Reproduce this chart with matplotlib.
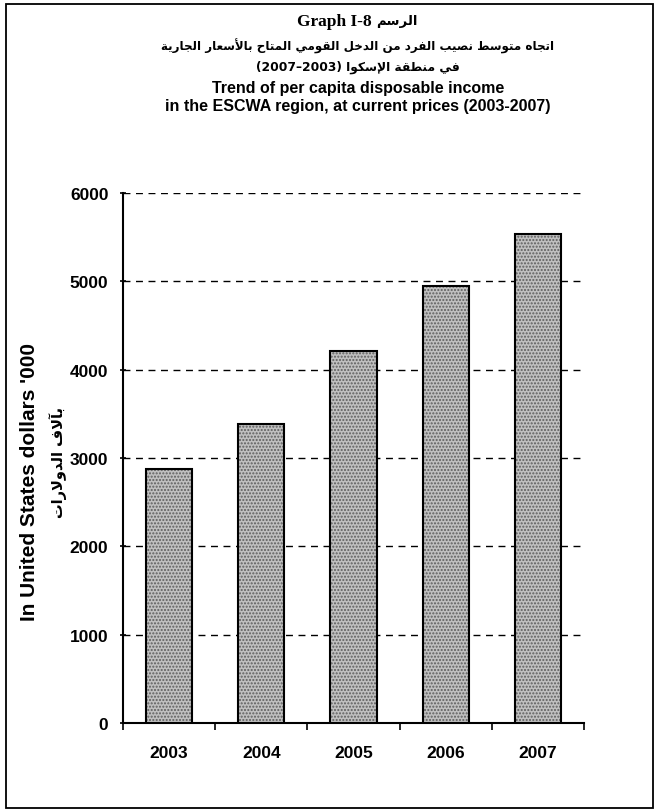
import matplotlib
matplotlib.use("Agg")
from matplotlib import pyplot as plt
from matplotlib.patches import Rectangle

years = ['2003', '2004', '2005', '2006', '2007']
income = [2880, 3390, 4215, 4945, 5535]
yticks = [0, 1000, 2000, 3000, 4000, 5000, 6000]

title_en = ['Trend of per capita disposable income',
            'in the ESCWA region, at current prices (2003-2007)']
title_ar_1 = 'الرسم'
title_ar_2 = 'اتجاه متوسط نصيب الفرد من الدخل القومي المتاح بالأسعار الجارية'
title_ar_3 = 'في منطقة الإسكوا'
ylabel_en = "In United States dollars '000"
ylabel_ar = 'بآلاف الدولارات'

# matplotlib has no arabic shaping, so pick presentation forms by hand
# and reverse for left-to-right drawing
DUAL = {'ب': 0xFE8F, 'ت': 0xFE95, 'ج': 0xFE9D, 'ح': 0xFEA1, 'خ': 0xFEA5,
        'س': 0xFEB1, 'ص': 0xFEB9, 'ط': 0xFEC1, 'ع': 0xFEC9, 'ف': 0xFED1,
        'ق': 0xFED5, 'ك': 0xFED9, 'ل': 0xFEDD, 'م': 0xFEE1, 'ن': 0xFEE5,
        'ه': 0xFEE9, 'ي': 0xFEF1}
RIGHT = {'ا': 0xFE8D, 'أ': 0xFE83, 'إ': 0xFE87, 'آ': 0xFE81, 'ة': 0xFE93,
         'د': 0xFEA9, 'ر': 0xFEAD, 'و': 0xFEED}
LAM_ALEF = {'ا': 0xFEFB, 'أ': 0xFEF7, 'إ': 0xFEF9, 'آ': 0xFEF5}


def shape(text):
    out = []
    i = 0
    while i < len(text):
        c = text[i]
        prev = text[i - 1] if i > 0 else ''
        joins_prev = prev in DUAL
        if c == 'ل' and i + 1 < len(text) and text[i + 1] in LAM_ALEF:
            out.append(chr(LAM_ALEF[text[i + 1]] + (1 if joins_prev else 0)))
            i += 2
            continue
        nxt = text[i + 1] if i + 1 < len(text) else ''
        if c in DUAL:
            joins_next = nxt in DUAL or nxt in RIGHT
            base = DUAL[c]
            if joins_prev and joins_next:
                out.append(chr(base + 3))
            elif joins_next:
                out.append(chr(base + 2))
            elif joins_prev:
                out.append(chr(base + 1))
            else:
                out.append(chr(base))
        elif c in RIGHT:
            out.append(chr(RIGHT[c] + (1 if joins_prev else 0)))
        else:
            out.append(c)
        i += 1
    return ''.join(reversed(out))


W, H = 659, 812
fig = plt.figure(figsize=(W / 100, H / 100), dpi=100)
fig.patches.append(Rectangle((6 / W, 3 / H), 647 / W, 804 / H, transform=fig.transFigure,
                             fill=False, edgecolor='black', linewidth=1.3))

ax = fig.add_axes([123 / W, 1 - 724 / H, 461 / W, 530 / H])
x = range(len(years))
ax.bar(x, income, width=0.5, color='#c0c0c0', edgecolor='#5e5e5e', hatch='.....',
       linewidth=0, zorder=3)
ax.bar(x, income, width=0.5, fill=False, edgecolor='black', linewidth=1.5, zorder=4)

ax.set_xlim(-0.5, 4.5)
ax.set_ylim(0, 6000)
ax.set_yticks(yticks)
ax.set_xticks(list(x))
ax.set_xticklabels(years)
ax.set_xticks([i - 0.5 for i in range(6)], minor=True)
ax.tick_params(axis='x', which='major', length=0, pad=16)
ax.tick_params(axis='x', which='minor', length=5, direction='out', width=1.2)
ax.tick_params(axis='y', length=5, direction='inout', width=1.2, pad=8)
for lab in ax.get_xticklabels() + ax.get_yticklabels():
    lab.set_fontfamily('Liberation Sans')
    lab.set_fontweight('bold')
    lab.set_fontsize(12.5)

ax.yaxis.grid(True, linestyle=(0, (5, 4)), color='black', linewidth=1)
ax.set_axisbelow(True)
for s in ['top', 'right']:
    ax.spines[s].set_visible(False)
ax.spines['left'].set_linewidth(1.5)
ax.spines['bottom'].set_linewidth(1.5)

fig.text(30 / W, 1 - 482 / H, ylabel_en, rotation=90, ha='center', va='center',
         family='Liberation Sans', weight='bold', fontsize=15)
fig.text(58 / W, 1 - 463 / H, shape(ylabel_ar), rotation=90, ha='center', va='center',
         family='DejaVu Sans', weight='bold', fontsize=10.5)

cx = 358 / W
fig.text(cx + 18 / W, 1 - 22 / H, 'Graph I-8 ', ha='right', va='center', family='Liberation Serif',
         weight='bold', fontsize=12.5)
fig.text(cx + 18 / W, 1 - 22 / H, shape(title_ar_1), ha='left', va='center', family='DejaVu Sans',
         weight='bold', fontsize=9.5)
fig.text(cx, 1 - 46 / H, shape(title_ar_2), ha='center', va='center', family='DejaVu Sans',
         weight='bold', fontsize=8.6)
fig.text(cx, 1 - 67 / H, '(2007–2003) ' + shape(title_ar_3), ha='center', va='center',
         family='DejaVu Sans', weight='bold', fontsize=8.8)
fig.text(cx, 1 - 88 / H, title_en[0], ha='center', va='center', family='Liberation Sans',
         weight='bold', fontsize=11.5)
fig.text(cx, 1 - 107 / H, title_en[1], ha='center', va='center', family='Liberation Sans',
         weight='bold', fontsize=11.5)

plt.savefig("out.png")
